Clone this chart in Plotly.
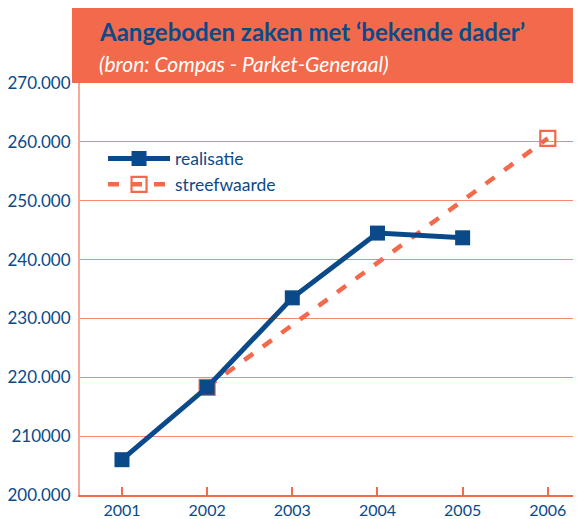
import plotly.graph_objects as go

years_real = [2001, 2002, 2003, 2004, 2005]
realisatie = [206000, 218300, 233500, 244500, 243700]
years_target = [2002, 2006]
streefwaarde = [218300, 260600]

tick_vals = [200000, 210000, 220000, 230000, 240000, 250000, 260000, 270000]
tick_text = ["200.000", "210000", "220.000", "230.000", "240.000", "250.000", "260.000", "270.000"]
x_ticks = [2001, 2002, 2003, 2004, 2005, 2006]

BLUE = "#0A4A8A"
ORANGE = "#F26A4B"
GRID = "#F48A70"
FONT = "Lato"

fig = go.Figure()
fig.add_trace(go.Scatter(
    x=years_target, y=streefwaarde, name="streefwaarde", mode="lines+markers",
    line=dict(color=ORANGE, width=4.5, dash="11px,12px"),
    marker=dict(symbol="square-open", size=15, color=ORANGE, line=dict(width=2.2, color=ORANGE)),
))
fig.add_trace(go.Scatter(
    x=years_real, y=realisatie, name="realisatie", mode="lines+markers",
    line=dict(color=BLUE, width=5),
    marker=dict(symbol="square", size=15, color=BLUE),
))

fig.update_layout(
    width=573, height=511,
    margin=dict(l=72, r=0, t=75, b=24, autoexpand=False),
    paper_bgcolor="white", plot_bgcolor="white",
    font=dict(family=FONT, color=BLUE, size=16),
    showlegend=True,
    legend=dict(x=0.046, y=0.86, xanchor="left", yanchor="top",
                traceorder="reversed", bgcolor="rgba(0,0,0,0)",
                font=dict(family=FONT, size=17.5, color=BLUE),
                itemwidth=62, tracegroupgap=0),
    xaxis=dict(range=[2000.507, 2006.39], tickvals=x_ticks, ticktext=[str(v) for v in x_ticks],
               showgrid=False, zeroline=False, showline=True, linecolor=ORANGE, linewidth=2,
               ticks="inside", ticklen=8, tickcolor=ORANGE, tickwidth=1.5,
               tickfont=dict(family=FONT, size=16, color=BLUE)),
    yaxis=dict(range=[200000, 270000], tickvals=tick_vals, ticktext=tick_text,
               showgrid=True, gridcolor=GRID, gridwidth=1.2, zeroline=False,
               showline=True, linecolor="#F7A896", linewidth=2,
               ticks="outside", ticklen=4, tickcolor="rgba(0,0,0,0)",
               tickfont=dict(family=FONT, size=17, color=BLUE)),
    shapes=[dict(type="rect", xref="paper", yref="paper", x0=-0.016, x1=1.0,
                 y0=1.0, y1=1.182, fillcolor=ORANGE, line=dict(width=0), layer="above")],
    annotations=[
        dict(text="<b>Aangeboden zaken met ‘bekende dader’</b>", xref="paper", yref="paper",
             x=0.034, y=1.126, xanchor="left", yanchor="middle", showarrow=False,
             font=dict(family=FONT, size=24, color=BLUE)),
        dict(text="<i>(bron: Compas - Parket-Generaal)</i>", xref="paper", yref="paper",
             x=0.034, y=1.047, xanchor="left", yanchor="middle", showarrow=False,
             font=dict(family=FONT, size=21, color="white")),
    ],
)

fig.write_html("out.html")
